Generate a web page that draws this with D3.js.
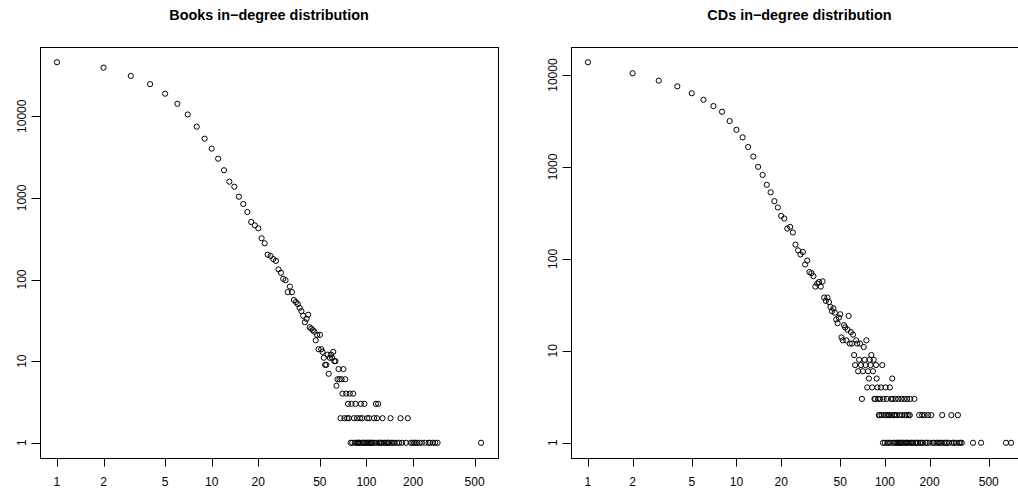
<!DOCTYPE html>
<html>
<head>
<meta charset="utf-8">
<script src="https://cdn.jsdelivr.net/npm/d3@7"></script>
<style>
  body { margin: 0; background: #fff; }
  svg { display: block; }
  text { font-family: "Liberation Sans", Arial, Helvetica, sans-serif; fill: #000; }
</style>
</head>
<body>
<div id="chart"></div>
<script>
// in-degree -> number of nodes with that in-degree
var booksDegree = [1, 2, 3, 4, 5, 6, 7, 8, 9, 10, 11, 12, 13, 14, 15, 16, 17, 18, 19, 20,
    21, 22, 23, 24, 25, 26, 27, 28, 29, 30, 31, 32, 33, 34, 35, 36, 37, 38, 39, 40,
    41, 42, 43, 44, 45, 46, 47, 48, 49, 50, 51, 52, 53, 54, 55, 56, 57, 58, 59, 60,
    61, 62, 63, 64, 65, 66, 67, 68, 69, 70, 71, 72, 73, 74, 75, 76, 77, 78, 79, 80,
    81, 82, 83, 84, 85, 86, 87, 88, 89, 90, 91, 92, 93, 94, 95, 96, 97, 98, 100, 101,
    102, 103, 104, 105, 107, 108, 110, 112, 113, 115, 116, 117, 119, 120, 122, 124, 126, 127, 130, 133,
    136, 138, 140, 143, 145, 148, 152, 158, 163, 166, 170, 180, 185, 193, 198, 203, 208, 213, 220, 228,
    240, 252, 258, 268, 278, 288, 550];
var booksCount = [45900, 39400, 31200, 24700, 18900, 14200, 10500, 7460, 5310, 4010, 3020, 2180, 1580, 1370, 1035, 842, 671, 507, 461, 424,
    320, 278, 201, 194, 178, 169, 133, 121, 102, 98, 70, 82, 70, 56, 53, 50, 45, 41, 36, 30,
    33, 37, 26, 25, 24, 23, 18, 21, 14, 21, 14, 13, 11, 9, 9, 12, 7, 11, 12, 11,
    13, 10, 10, 5, 6, 8, 6, 2, 6, 4, 8, 2, 6, 4, 2, 3, 2, 4, 1, 3,
    1, 4, 2, 1, 3, 1, 2, 1, 1, 1, 2, 3, 1, 2, 1, 1, 3, 1, 1, 2,
    1, 1, 2, 1, 1, 1, 1, 2, 1, 3, 1, 2, 3, 1, 1, 1, 1, 2, 1, 1,
    1, 1, 1, 2, 1, 1, 1, 1, 1, 2, 1, 1, 2, 1, 1, 1, 1, 1, 1, 1,
    1, 1, 1, 1, 1, 1, 1];

var cdsDegree = [1, 2, 3, 4, 5, 6, 7, 8, 9, 10, 11, 12, 13, 14, 15, 16, 17, 18, 19, 20,
    21, 22, 23, 24, 25, 26, 27, 28, 29, 30, 31, 32, 33, 34, 35, 36, 37, 38, 39, 40,
    41, 42, 43, 44, 45, 46, 47, 48, 49, 50, 51, 52, 53, 54, 55, 56, 57, 58, 59, 60,
    61, 62, 63, 64, 65, 66, 67, 68, 69, 70, 71, 72, 73, 74, 75, 76, 77, 78, 79, 80,
    81, 82, 83, 84, 85, 86, 87, 88, 89, 90, 91, 92, 93, 94, 95, 96, 97, 98, 99, 100,
    101, 102, 103, 104, 105, 106, 107, 108, 109, 110, 111, 112, 113, 114, 115, 116, 117, 118, 119, 120,
    121, 123, 124, 125, 126, 128, 129, 130, 131, 133, 135, 136, 137, 139, 140, 141, 142, 144, 145, 147,
    148, 150, 152, 155, 158, 160, 163, 166, 170, 172, 175, 178, 180, 185, 188, 192, 195, 200, 205, 210,
    214, 222, 228, 235, 240, 243, 250, 256, 262, 270, 280, 285, 292, 300, 310, 315, 322, 329, 392, 444,
    654, 707];
var cdsCount = [13800, 10470, 8690, 7550, 6340, 5390, 4600, 3990, 3160, 2540, 2100, 1650, 1300, 1004, 820, 640, 530, 425, 363, 294,
    275, 214, 223, 194, 143, 124, 112, 119, 87, 96, 72, 70, 65, 50, 54, 56, 50, 57, 38, 35,
    38, 34, 30, 27, 29, 26, 22, 20, 23, 25, 14, 13, 19, 18, 13, 17, 24, 12, 16, 12,
    15, 9, 7, 13, 12, 6, 8, 12, 7, 3, 6, 11, 8, 7, 13, 4, 6, 5, 8, 7,
    9, 4, 6, 8, 3, 3, 7, 5, 4, 3, 2, 2, 3, 4, 2, 7, 1, 3, 2, 1,
    4, 2, 3, 1, 2, 1, 2, 4, 1, 3, 2, 5, 3, 1, 2, 1, 2, 3, 1, 2,
    1, 3, 1, 2, 1, 1, 3, 2, 1, 1, 3, 2, 1, 1, 2, 3, 1, 2, 1, 2,
    3, 1, 1, 1, 3, 1, 1, 1, 2, 1, 1, 2, 1, 2, 1, 1, 2, 1, 2, 1,
    1, 1, 1, 1, 1, 2, 1, 1, 1, 1, 2, 1, 1, 1, 2, 1, 1, 1, 1, 1,
    1, 1];

var xTicks = [1, 2, 5, 10, 20, 50, 100, 200, 500];
var yTicks = [1, 10, 100, 1000, 10000];

var W = 1018, H = 491;

var svg = d3.select('#chart')
    .append('svg')
    .attr('width', W)
    .attr('height', H);

// R style log range: data range padded by 4% on each side (in log space)
function logDomain(vals) {
    var lo = Math.log10(d3.min(vals)), hi = Math.log10(d3.max(vals));
    var pad = (hi - lo) * 0.04;
    return [Math.pow(10, lo - pad), Math.pow(10, hi + pad)];
}

function panel(box, title, degree, count) {
    var g = svg.append('g');

    var x = d3.scaleLog().domain(logDomain(degree)).range([box.left, box.right]);
    var y = d3.scaleLog().domain(logDomain(count)).range([box.bottom, box.top]);

    g.append('text')
        .attr('x', (box.left + box.right) / 2)
        .attr('y', 20)
        .attr('text-anchor', 'middle')
        .style('font-size', '14.4px')
        .style('font-weight', 'bold')
        .text(title);

    // x axis
    g.append('line')
        .attr('x1', x(xTicks[0])).attr('x2', x(xTicks[xTicks.length - 1]))
        .attr('y1', box.bottom + 0.5).attr('y2', box.bottom + 0.5)
        .attr('stroke', '#000');
    g.selectAll('.xt')
        .data(xTicks)
        .enter()
        .append('line')
        .attr('x1', function(d) { return Math.round(x(d)) + 0.5; })
        .attr('x2', function(d) { return Math.round(x(d)) + 0.5; })
        .attr('y1', box.bottom)
        .attr('y2', box.bottom + 8.5)
        .attr('stroke', '#000');
    g.selectAll('.xl')
        .data(xTicks)
        .enter()
        .append('text')
        .attr('x', function(d) { return x(d); })
        .attr('y', 486)
        .attr('text-anchor', 'middle')
        .style('font-size', '12px')
        .text(function(d) { return d; });

    // y axis
    g.selectAll('.yt')
        .data(yTicks)
        .enter()
        .append('line')
        .attr('x1', box.left - 8.5)
        .attr('x2', box.left)
        .attr('y1', function(d) { return Math.round(y(d)) + 0.5; })
        .attr('y2', function(d) { return Math.round(y(d)) + 0.5; })
        .attr('stroke', '#000');
    g.selectAll('.yl')
        .data(yTicks)
        .enter()
        .append('text')
        .attr('transform', function(d) {
            return 'translate(' + (box.left - 14) + ',' + y(d) + ') rotate(-90)';
        })
        .attr('text-anchor', 'middle')
        .style('font-size', '12px')
        .text(function(d) { return d; });

    // plot box
    g.append('rect')
        .attr('x', box.left + 0.5)
        .attr('y', box.top + 0.5)
        .attr('width', box.right - box.left)
        .attr('height', box.bottom - box.top)
        .attr('fill', 'none')
        .attr('stroke', '#000');

    var pts = d3.zip(degree, count);
    g.selectAll('circle')
        .data(pts)
        .enter()
        .append('circle')
        .attr('cx', function(d) { return x(d[0]); })
        .attr('cy', function(d) { return y(d[1]); })
        .attr('r', 2.6)
        .attr('fill', 'none')
        .attr('stroke', '#000')
        .attr('stroke-width', 1);
}

panel({left: 40, right: 498, top: 47, bottom: 458}, 'Books in\u2212degree distribution', booksDegree, booksCount);
panel({left: 571, right: 1028, top: 47, bottom: 458}, 'CDs in\u2212degree distribution', cdsDegree, cdsCount);
</script>
</body>
</html>
